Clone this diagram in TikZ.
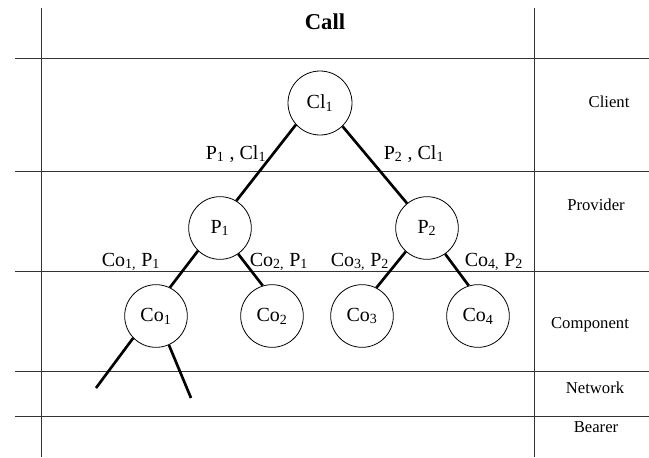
\documentclass[tikz,border=0pt]{standalone}
\usepackage{fontspec}
\setmainfont{Liberation Serif}
\usepackage{tikz}
\usetikzlibrary{positioning}

\begin{document}
\begin{tikzpicture}[x=0.75pt, y=-0.75pt,
    grid/.style={line width=0.7pt, draw=black!80},
    entity/.style={circle, draw, line width=0.6pt, 
        minimum size=47pt, inner sep=0pt, 
        font=\fontsize{15}{17}\selectfont},
    link/.style={line width=2pt},
    linklabel/.style={anchor=base, inner sep=0pt, 
        font=\fontsize{15}{17}\selectfont},
    layer/.style={anchor=base, inner sep=0pt, 
        font=\fontsize{12.5}{15}\selectfont},
]
\useasboundingbox (0,0) rectangle (649,457);

% ── Grid ──
\draw[grid] (41,8) -- (41,457);
\draw[grid] (534,8) -- (534,457);
\foreach \y in {58,171,271,371,416}
    \draw[grid] (15,\y) -- (649,\y);

\node[anchor=base, font=\fontsize{17}{20}\selectfont\bfseries] 
    (call) at (325,29) {Call};

% ── Layer names (right) ──
\node[layer] (client) at (609,107) {Client};
\node[layer] (provider) at (596,210) {Provider};
\node[layer] (component) at (590,328) {Component};
\node[layer] (network) at (595,393) {Network};
\node[layer] (bearer) at (596,432) {Bearer};

% ── Tree ──
\node[entity, minimum size=48pt] (cl1) at (320,103) 
    {Cl\textsubscript{1}};
\node[entity] (p1) at (220,228) {P\textsubscript{1}};
\node[entity] (p2) at (427,228) {P\textsubscript{2}};
\node[entity] (co1) at (156,316) {Co\textsubscript{1}};
\node[entity] (co2) at (272,316) {Co\textsubscript{2}};
\node[entity] (co3) at (362,316) {Co\textsubscript{3}};
\node[entity] (co4) at (478,316) {Co\textsubscript{4}};
\coordinate (net1) at (96,388);
\coordinate (net2) at (191,398);

% ── Links ──
\draw[link] (cl1.-138) -- (p1.59);
\draw[link] (cl1.-46) -- (p2.129);
\draw[link] (p1.-134) -- (co1.64);
\draw[link] (p1.-55) -- (co2.107);
\draw[link] (p2.-132) -- (co3.63);
\draw[link] (p2.-55) -- (co4.107);
\draw[link] (co1.-136) -- (net1);
\draw[link] (co1.-66) -- (net2);

% ── Link labels ──
\node[linklabel] (l1) at (236,159) 
    {P\textsubscript{1} , Cl\textsubscript{1}};
\node[linklabel] (l2) at (414,159) 
    {P\textsubscript{2} , Cl\textsubscript{1}};
\node[linklabel] (l3) at (131,266) 
    {Co\textsubscript{1,} P\textsubscript{1}};
\node[linklabel] (l4) at (279,266) 
    {Co\textsubscript{2,} P\textsubscript{1}};
\node[linklabel] (l5) at (360,266) 
    {Co\textsubscript{3,} P\textsubscript{2}};
\node[linklabel] (l6) at (494,266) 
    {Co\textsubscript{4,} P\textsubscript{2}};

\end{tikzpicture}
\end{document}
